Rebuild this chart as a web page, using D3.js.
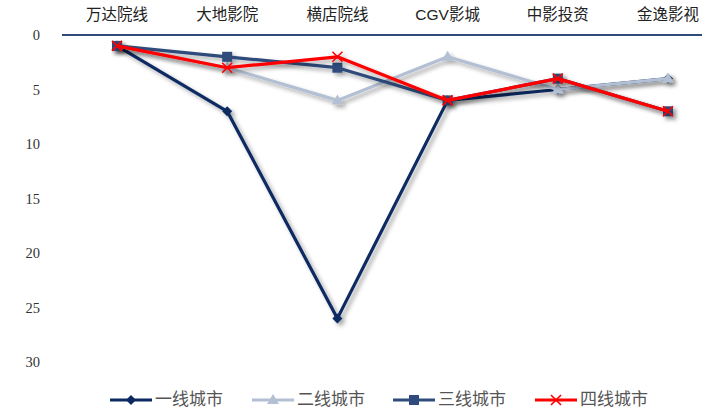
<!DOCTYPE html>
<html>
<head>
<meta charset="utf-8">
<script src="https://cdn.jsdelivr.net/npm/d3@7"></script>
<style>
  html, body { margin: 0; padding: 0; background: #fff; }
  svg { display: block; }
</style>
</head>
<body>
<svg id="chart" width="702" height="410"></svg>
<script>
// Cinema chains (x categories) and rank of each chain by city tier
const categories = ["万达院线", "大地影院", "横店院线", "CGV影城", "中影投资", "金逸影视"];
const tier1 = [1, 7, 26, 6, 5, 4];
const tier2 = [1, 3, 6, 2, 5, 4];
const tier3 = [1, 2, 3, 6, 4, 7];
const tier4 = [1, 3, 2, 6, 4, 7];
const seriesNames = ["一线城市", "二线城市", "三线城市", "四线城市"];
const yTicks = [0, 5, 10, 15, 20, 25, 30];

const series = [
  { name: seriesNames[0], values: tier1, color: "#0b2a62", marker: "diamond" },
  { name: seriesNames[1], values: tier2, color: "#b3bfd2", marker: "triangle" },
  { name: seriesNames[2], values: tier3, color: "#2f4b7c", marker: "square" },
  { name: seriesNames[3], values: tier4, color: "#ff0000", marker: "cross" }
];

const svg = d3.select("#chart");
const cjk = "'Noto Sans CJK SC', 'Noto Sans', sans-serif";
const serif = "'Liberation Serif', 'DejaVu Serif', serif";

const x = d3.scalePoint().domain(categories).range([117, 668]);
const y = d3.scaleLinear().domain([0, 30]).range([35, 362]);

// Soft drop shadow under the lines
const defs = svg.append("defs");
const f = defs.append("filter").attr("id", "shadow")
  .attr("x", "-10%").attr("y", "-10%").attr("width", "130%").attr("height", "130%");
f.append("feDropShadow").attr("dx", 3).attr("dy", 3).attr("stdDeviation", 2)
  .attr("flood-color", "#000").attr("flood-opacity", 0.35);

// Top category axis line
svg.append("line")
  .attr("x1", 62).attr("x2", 702).attr("y1", y(0)).attr("y2", y(0))
  .attr("stroke", "#2f4b7c").attr("stroke-width", 2);

// Category labels above the axis
svg.append("g").selectAll("text").data(categories).join("text")
  .attr("x", d => x(d)).attr("y", 20)
  .attr("text-anchor", "middle")
  .attr("font-family", d => /^[A-Z]/.test(d) ? "'Liberation Sans', Arial, " + cjk : cjk)
  .attr("font-size", 15.5).attr("fill", "#222")
  .text(d => d);

// Value ticks on the left (0 at top, increasing downward)
svg.append("g").selectAll("text").data(yTicks).join("text")
  .attr("x", 40).attr("y", d => y(d) + 5)
  .attr("text-anchor", "end")
  .attr("font-family", serif).attr("font-size", 14.5).attr("fill", "#333")
  .text(d => d);

const line = d3.line().x((d, i) => x(categories[i])).y(d => y(d));

function drawMarker(g, type, color, cx, cy) {
  if (type === "diamond") {
    g.append("path").attr("d", `M${cx},${cy - 5}L${cx + 5},${cy}L${cx},${cy + 5}L${cx - 5},${cy}Z`).attr("fill", color);
  } else if (type === "triangle") {
    g.append("path").attr("d", `M${cx},${cy - 6}L${cx + 6},${cy + 4}L${cx - 6},${cy + 4}Z`).attr("fill", color);
  } else if (type === "square") {
    g.append("rect").attr("x", cx - 5).attr("y", cy - 5).attr("width", 10).attr("height", 10).attr("fill", color);
  } else if (type === "cross") {
    g.append("path").attr("d", `M${cx - 5},${cy - 5}L${cx + 5},${cy + 5}M${cx + 5},${cy - 5}L${cx - 5},${cy + 5}`)
      .attr("stroke", color).attr("stroke-width", 1.6).attr("fill", "none");
  }
}

series.forEach(s => {
  const g = svg.append("g").attr("filter", "url(#shadow)");
  g.append("path").datum(s.values)
    .attr("d", line).attr("fill", "none")
    .attr("stroke", s.color).attr("stroke-width", 3.2).attr("stroke-linejoin", "round");
  s.values.forEach((v, i) => drawMarker(g, s.marker, s.color, x(categories[i]), y(v)));
});

// Legend
const legendX = [110, 252, 393, 535];
const ly = 400;
series.forEach((s, i) => {
  const g = svg.append("g");
  const lx = legendX[i];
  g.append("line").attr("x1", lx).attr("x2", lx + 42).attr("y1", ly).attr("y2", ly)
    .attr("stroke", s.color).attr("stroke-width", 3);
  drawMarker(g, s.marker, s.color, lx + 21, ly);
  g.append("text").attr("x", lx + 45).attr("y", ly + 5)
    .attr("font-family", cjk).attr("font-size", 17).attr("fill", "#555")
    .text(s.name);
});
</script>
</body>
</html>
